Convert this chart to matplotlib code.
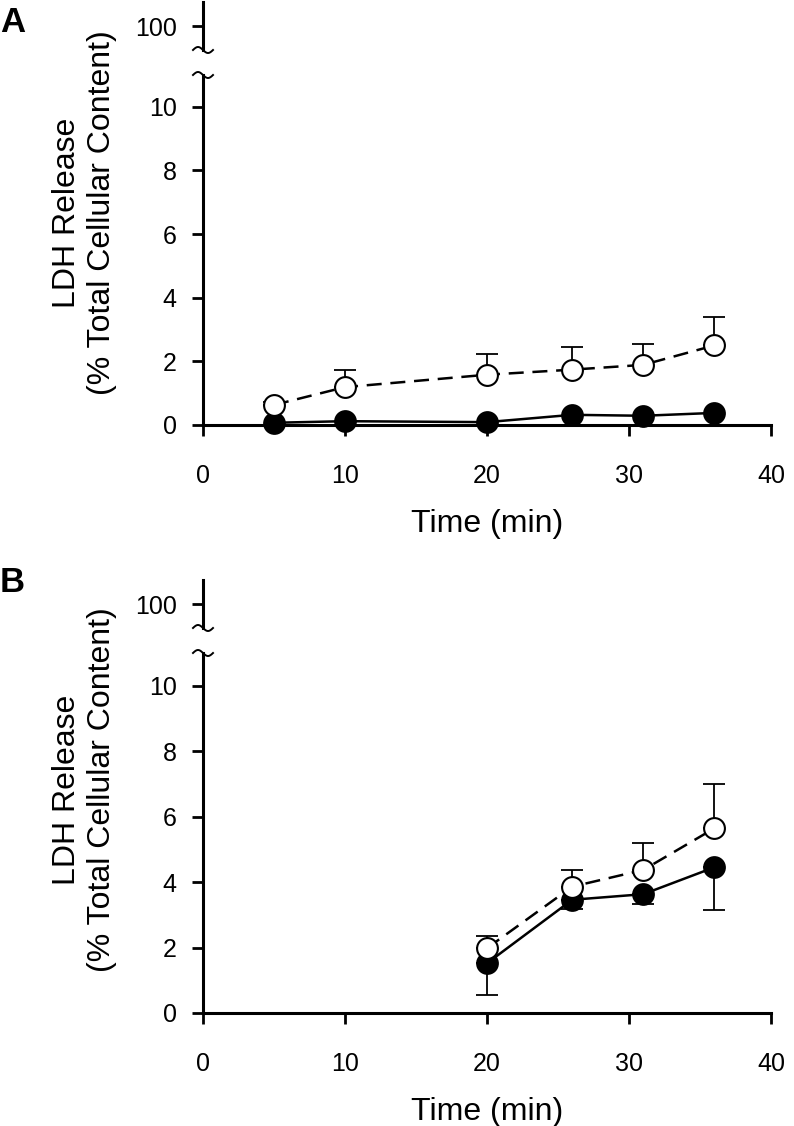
import matplotlib
matplotlib.use('Agg')
import matplotlib.pyplot as plt
from matplotlib.lines import Line2D
import numpy as np

plt.rcParams['font.family'] = ['Liberation Sans', 'DejaVu Sans']

# ---------------- data ----------------
time_a = [5, 10, 20, 26, 31, 36]
a_filled = [0.07, 0.12, 0.09, 0.32, 0.29, 0.38]
a_open = [0.63, 1.19, 1.58, 1.74, 1.89, 2.50]
a_open_err = [0.10, 0.53, 0.66, 0.70, 0.66, 0.89]

time_b = [20, 26, 31, 36]
b_filled = [1.52, 3.46, 3.63, 4.45]
b_filled_err = [0.96, 0.29, 0.30, 1.30]
b_open = [1.98, 3.86, 4.37, 5.64]
b_open_err = [0.38, 0.51, 0.83, 1.35]

x_ticks = [0, 10, 20, 30, 40]
y_ticks = [0, 2, 4, 6, 8, 10]
y_break_tick = [100]
x_label = 'Time (min)'
y_label_lines = ['LDH Release', '(% Total Cellular Content)']

# ---------------- figure ----------------
W, H = 794, 1126
fig = plt.figure(figsize=(W / 100, H / 100), dpi=100)


def fx(px):
    return px / W


def fy(py):
    return 1 - py / H


LEFT, RIGHT = 203, 771
SPINE_LW = 2.2


def squiggle(xc, yc):
    t = np.linspace(-10, 10, 60)
    xs = xc + t
    ys = yc + 3.0 * np.sin(np.pi * t / 10)
    fig.add_artist(Line2D([fx(v) for v in xs], [fy(v) for v in ys],
                          transform=fig.transFigure, color='black', lw=1.4))


def make_panel(letter, letter_y, top_px, top_bot_px, bot_top_px, zero_px, label_y,
               times, filled, filled_err, open_, open_err):
    ax = fig.add_axes([fx(LEFT), fy(zero_px), fx(RIGHT) - fx(LEFT),
                       fy(bot_top_px) - fy(zero_px)])
    axt = fig.add_axes([fx(LEFT), fy(top_bot_px), fx(RIGHT) - fx(LEFT),
                        fy(top_px) - fy(top_bot_px)])

    n = len(times)
    zeros = [0] * n
    # error bars
    ax.errorbar(times, open_, yerr=[zeros, open_err], fmt='none', ecolor='black',
                elinewidth=1.3, capsize=8, capthick=1.3, zorder=1, clip_on=False)
    if filled_err is not None:
        ax.errorbar(times, filled, yerr=[filled_err, zeros], fmt='none', ecolor='black',
                    elinewidth=1.3, capsize=8, capthick=1.3, zorder=1, clip_on=False)
    # series
    ax.plot(times, filled, linestyle='-', color='black', lw=1.8, marker='o', ms=15,
            mfc='black', mec='black', mew=1.4, zorder=3, clip_on=False)
    ax.plot(times, open_, linestyle=(0, (6, 3.5)), color='black', lw=1.8, marker='o',
            ms=15, mfc='white', mec='black', mew=1.5, zorder=4, clip_on=False)

    ax.set_xlim(0, 40)
    ax.set_ylim(0, 11)
    ax.set_xticks(x_ticks)
    ax.set_yticks(y_ticks)
    for s in ['top', 'right']:
        ax.spines[s].set_visible(False)
    for s in ['left', 'bottom']:
        ax.spines[s].set_linewidth(SPINE_LW)
    ax.tick_params(axis='both', direction='out', length=8, width=2, labelsize=18)
    ax.tick_params(axis='x', pad=20)
    ax.tick_params(axis='y', pad=11)
    ax.set_xlabel(x_label, fontsize=23, labelpad=15)

    axt.set_xlim(0, 40)
    axt.set_ylim(90, 110)
    axt.set_yticks(y_break_tick)
    axt.set_xticks([])
    for s in ['top', 'right', 'bottom']:
        axt.spines[s].set_visible(False)
    axt.spines['left'].set_linewidth(SPINE_LW)
    axt.tick_params(axis='y', direction='out', length=8, width=2, labelsize=18, pad=11)
    axt.patch.set_alpha(0)

    squiggle(LEFT, top_bot_px)
    squiggle(LEFT, bot_top_px)

    for line, base_x in zip(y_label_lines, [75, 110]):
        fig.text(fx(base_x), fy(label_y), line, rotation=90, rotation_mode='anchor',
                 ha='center', va='baseline', fontsize=23)
    fig.text(fx(0), fy(letter_y), letter, fontsize=25, fontweight='bold',
             ha='left', va='center')
    return ax


make_panel('A', 22, 2, 50, 75, 425, 213,
           time_a, a_filled, None, a_open, a_open_err)
make_panel('B', 583, 580, 628, 653, 1013, 790,
           time_b, b_filled, b_filled_err, b_open, b_open_err)

fig.savefig('out.png', dpi=100)
